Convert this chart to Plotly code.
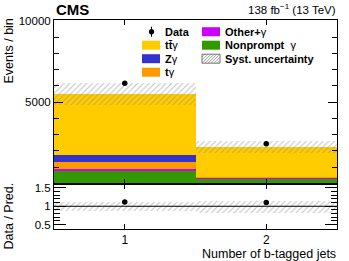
import numpy as np
import plotly.graph_objects as go

# ---------------- data ----------------
bins = [1, 2]
bin_labels = ["1", "2"]
nonprompt = [790, 335]
other = [105, 8]
tgamma = [405, 80]
zgamma = [470, 5]
ttgamma = [3756, 1790]
data = [6164, 2445]
syst = [675, 370]

y_main_ticks = [5000, 10000]
y_ratio_ticks = [0.5, 1, 1.5]

# ---------------- geometry helpers (legend/text placement only) ----------------
W, H = 349, 261
L, R, T, B = 54, 12, 20, 32
PW, PH = W - L - R, H - T - B
RATIO_FRAC = 45.5 / PH


def px(x):
    return (x - L) / PW


def py(y):
    return (H - B - y) / PH


COLORS = {
    "ttg": "#ffcc00",
    "zg": "#3333cc",
    "tg": "#ff9900",
    "other": "#cc00ff",
    "np": "#339900",
}
HATCH = "#888888"

fig = go.Figure()

stack = [
    ("Nonprompt γ", nonprompt, COLORS["np"]),
    ("Other+γ", other, COLORS["other"]),
    ("tγ", tgamma, COLORS["tg"]),
    ("Zγ", zgamma, COLORS["zg"]),
    ("tt̄γ", ttgamma, COLORS["ttg"]),
]
for name, vals, col in stack:
    fig.add_trace(go.Bar(x=bins, y=vals, width=1, name=name,
                         marker=dict(color=col, line=dict(width=0)),
                         xaxis="x", yaxis="y", showlegend=False))

total = np.sum([np.array(v, dtype=float) for _, v, _ in stack], axis=0)
syst_a = np.array(syst, dtype=float)
data_a = np.array(data, dtype=float)

pattern = dict(shape="/", size=4, solidity=0.28, fgcolor=HATCH,
               bgcolor="rgba(0,0,0,0)")
fig.add_trace(go.Bar(x=bins, y=2 * syst_a, base=total - syst_a, width=1,
                     name="Syst. uncertainty",
                     marker=dict(color=HATCH, line=dict(width=0), pattern=pattern),
                     xaxis="x", yaxis="y", showlegend=False))

fig.add_trace(go.Scatter(x=bins, y=data_a, mode="markers", name="Data",
                         marker=dict(color="black", size=5.5),
                         error_y=dict(type="data", array=np.sqrt(data_a),
                                      color="black", thickness=1, width=0),
                         xaxis="x", yaxis="y", showlegend=False))

# ratio panel
rel = syst_a / total
fig.add_trace(go.Bar(x=bins, y=2 * rel, base=1 - rel, width=1,
                     marker=dict(color=HATCH, line=dict(width=0), pattern=pattern),
                     xaxis="x2", yaxis="y2", showlegend=False))
fig.add_trace(go.Scatter(x=bins, y=data_a / total, mode="markers",
                         marker=dict(color="black", size=5.5),
                         error_y=dict(type="data", array=np.sqrt(data_a) / total,
                                      color="black", thickness=1, width=0),
                         xaxis="x2", yaxis="y2", showlegend=False))

fig.add_shape(type="line", xref="x2 domain", yref="y2", x0=0, x1=1, y0=1, y1=1,
              line=dict(color="black", width=1))

axis_common = dict(showline=True, linecolor="black", linewidth=1, mirror="allticks",
                   ticks="inside", tickcolor="black", showgrid=False, zeroline=False)

fig.update_layout(
    width=W, height=H,
    margin=dict(l=L, r=R, t=T, b=B),
    barmode="stack", bargap=0,
    plot_bgcolor="white", paper_bgcolor="white",
    showlegend=False,
    font=dict(family="Liberation Sans, Arial, sans-serif", color="black", size=11),
    xaxis=dict(domain=[0, 1], anchor="y", range=[0.5, 2.5], tickvals=bins,
               showticklabels=False, ticklen=5, **axis_common),
    xaxis2=dict(domain=[0, 1], anchor="y2", range=[0.5, 2.5], matches="x",
                tickvals=bins, ticktext=bin_labels, ticklen=5,
                tickfont=dict(size=12), **axis_common),
    yaxis=dict(domain=[RATIO_FRAC, 1], anchor="x", range=[0, 10050],
               tickvals=y_main_ticks, ticktext=[str(v) for v in y_main_ticks],
               ticklen=9, tickfont=dict(size=11.5),
               minor=dict(tickmode="linear", tick0=0, dtick=1000, ticklen=5,
                          ticks="inside", tickcolor="black"),
               **axis_common),
    yaxis2=dict(domain=[0, RATIO_FRAC], anchor="x2", range=[0.38, 1.62],
                tickvals=y_ratio_ticks, ticktext=["0.5", "1", "1.5"],
                ticklen=12, tickfont=dict(size=11.5),
                minor=dict(tickmode="linear", tick0=0, dtick=0.1, ticklen=6,
                           ticks="inside", tickcolor="black"),
                **axis_common),
)

ann = []
ann.append(dict(text="<b>CMS</b>", x=px(54), y=py(10), xref="paper", yref="paper",
                xanchor="left", yanchor="middle", showarrow=False,
                font=dict(size=15)))
ann.append(dict(text="138 fb<sup>−1</sup> (13 TeV)", x=px(338), y=py(9),
                xref="paper", yref="paper", xanchor="right", yanchor="middle",
                showarrow=False, font=dict(size=11.5)))
ann.append(dict(text="Events / bin", x=px(8), y=py(17), xref="paper", yref="paper",
                xanchor="center", yanchor="top", textangle=-90, showarrow=False,
                font=dict(size=12.5)))
ann.append(dict(text="Data / Pred.", x=px(8), y=py(181), xref="paper", yref="paper",
                xanchor="center", yanchor="top", textangle=-90, showarrow=False,
                font=dict(size=12.5)))
ann.append(dict(text="Number of b-tagged jets", x=px(337.5), y=py(253.5),
                xref="paper", yref="paper", xanchor="right", yanchor="middle",
                showarrow=False, font=dict(size=12.5)))

# ---- manual legend (ROOT style, two columns) ----
shapes = []
row_y = [31.7, 45.2, 58.7, 72.2]
col_sw = [142, 202]
col_tx = [163.3, 223.3]
sw_w, sw_h = 18, 9

legend_items = [
    (0, 0, "data", "<b>Data</b>"),
    (0, 1, COLORS["ttg"], "<b>tt̄</b>γ"),
    (0, 2, COLORS["zg"], "<b>Z</b>γ"),
    (0, 3, COLORS["tg"], "<b>t</b>γ"),
    (1, 0, COLORS["other"], "<b>Other+</b>γ"),
    (1, 1, COLORS["np"], "<b>Nonprompt </b> γ"),
    (1, 2, "hatch", "<b>Syst. uncertainty</b>"),
]
for c, r, kind, label in legend_items:
    yc = row_y[r]
    x0 = col_sw[c]
    if kind == "data":
        xc = 151.5
        shapes.append(dict(type="line", xref="paper", yref="paper",
                           x0=px(xc), x1=px(xc), y0=py(yc - 5), y1=py(yc + 5),
                           line=dict(color="black", width=1)))
        shapes.append(dict(type="circle", xref="paper", yref="paper",
                           x0=px(xc - 2.6), x1=px(xc + 2.6), y0=py(yc - 2.6), y1=py(yc + 2.6),
                           fillcolor="black", line=dict(color="black", width=0)))
    elif kind == "hatch":
        xa, xb = x0, x0 + sw_w
        ya, yb = yc + sw_h / 2, yc - sw_h / 2  # bottom, top in pixel coords
        path = ""
        t = -sw_h
        while t < sw_w:
            sx, ex = xa + t, xa + t + sw_h
            sy, ey = ya, yb
            if sx < xa:
                sy = ya - (xa - sx)
                sx = xa
            if ex > xb:
                ey = yb + (ex - xb)
                ex = xb
            path += f"M{px(sx)},{py(sy)} L{px(ex)},{py(ey)} "
            t += 3
        shapes.append(dict(type="path", xref="paper", yref="paper", path=path,
                           line=dict(color=HATCH, width=0.8)))
        shapes.append(dict(type="rect", xref="paper", yref="paper",
                           x0=px(xa), x1=px(xb), y0=py(ya), y1=py(yb),
                           line=dict(color="#555555", width=0.8)))
    else:
        shapes.append(dict(type="rect", xref="paper", yref="paper",
                           x0=px(x0), x1=px(x0 + sw_w), y0=py(yc + sw_h / 2), y1=py(yc - sw_h / 2),
                           fillcolor=kind, line=dict(width=0)))
    ann.append(dict(text=label, x=px(col_tx[c]), y=py(yc), xref="paper", yref="paper",
                    xanchor="left", yanchor="middle", showarrow=False,
                    font=dict(size=11)))

fig.update_layout(annotations=ann)
for s in shapes:
    fig.add_shape(**s)

fig.write_html("out.html", config={"displayModeBar": False},
               post_script="document.body.style.margin='0px';document.body.style.padding='0px';")
